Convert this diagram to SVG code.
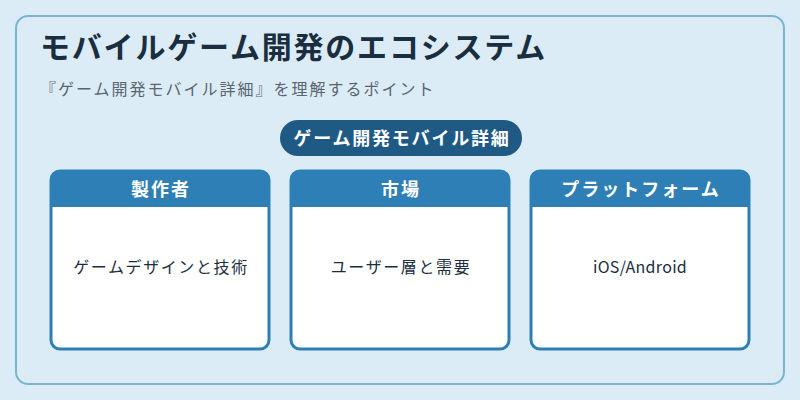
<svg xmlns="http://www.w3.org/2000/svg" width="800" height="400" viewBox="0 0 800 400">
<style>
text{font-family:"Noto Sans CJK JP","Noto Sans",sans-serif}
.card{fill:#fff;stroke:#2e7fb5;stroke-width:3}
.hd{fill:#2e7fb5}
.ht{fill:#fff;font-size:18px;font-weight:bold;text-anchor:middle;letter-spacing:2px}
.bt{fill:#1a2e40;font-size:16px;text-anchor:middle;letter-spacing:1.6px}
</style>
<rect width="800" height="400" fill="#dcecf7"/>
<rect x="16" y="16" width="768" height="368" rx="12" fill="#dcecf7" stroke="#7ab3d6" stroke-width="2"/>
<text x="40" y="58" font-size="30" font-weight="bold" fill="#1a2e40" letter-spacing="1.8">モバイルゲーム開発のエコシステム</text>
<text x="40" y="95" font-size="16" fill="#5a6570" letter-spacing="2">『ゲーム開発モバイル詳細』を理解するポイント</text>
<g id="hub"><rect x="280" y="120" width="242" height="36" rx="18" fill="#1f5a85"/>
<text x="402" y="145" font-size="18" font-weight="bold" fill="#fff" text-anchor="middle" letter-spacing="1.8">ゲーム開発モバイル詳細</text></g>
<g id="connectors"></g>
<g id="n1"><rect class="card" x="51" y="171" width="218" height="178" rx="9"/><path class="hd" d="M51 207V180a9 9 0 0 1 9-9h200a9 9 0 0 1 9 9v27z"/>
<text class="ht" x="161" y="196">製作者</text><text class="bt" x="161" y="273">ゲームデザインと技術</text></g>
<g id="n2"><rect class="card" x="291" y="171" width="218" height="178" rx="9"/><path class="hd" d="M291 207V180a9 9 0 0 1 9-9h200a9 9 0 0 1 9 9v27z"/>
<text class="ht" x="401" y="196">市場</text><text class="bt" x="401" y="273">ユーザー層と需要</text></g>
<g id="n3"><rect class="card" x="531" y="171" width="218" height="178" rx="9"/><path class="hd" d="M531 207V180a9 9 0 0 1 9-9h200a9 9 0 0 1 9 9v27z"/>
<text class="ht" x="641" y="196">プラットフォーム</text><text class="bt" x="640" y="273" style="letter-spacing:0.3px">iOS/Android</text></g>
</svg>
